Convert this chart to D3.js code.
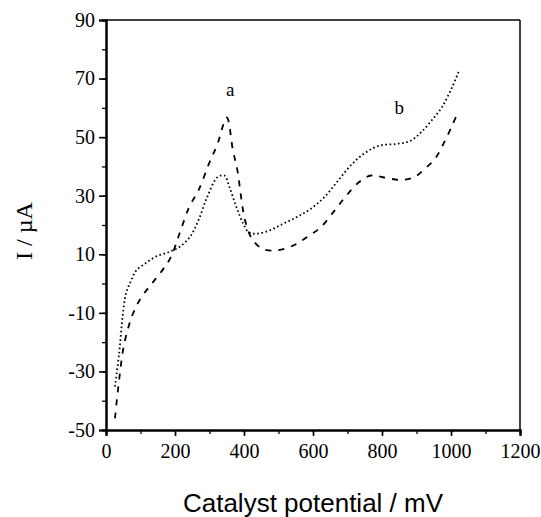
<!DOCTYPE html>
<html>
<head>
<meta charset="utf-8">
<script src="https://cdn.jsdelivr.net/npm/d3@7"></script>
<style>
html,body{margin:0;padding:0;background:#fff;}
svg{display:block;}
</style>
</head>
<body>
<svg id="chart" width="541" height="517"></svg>
<script>
// Data
const potentialDashed = [26,38,53,78,103,133,163,188,213,241,268,298,323,350,368,381,393,403,423,453,493,543,583,623,663,693,733,768,803,853,893,923,953,978,1003,1018];
const currentDashed   = [-46,-32.9,-20.5,-10.3,-4.6,0,4.5,9,17,26.1,31.8,40.8,47.6,56.7,45.4,38.6,28.4,21.6,15.3,11.9,11.3,13,15.9,19.3,25,29.5,34.6,36.9,36.3,35.4,36.3,39.1,42.5,47.7,53.9,57.9];
const potentialDotted = [26,38,48,58,73,88,113,143,183,213,243,268,293,323,343,358,378,398,413,433,473,513,553,593,633,673,713,753,793,843,883,913,943,973,1003,1023];
const currentDotted   = [-35.2,-23.9,-11.4,-3.4,1.1,4.5,6.8,9.1,10.8,12.5,15.9,21.6,29.5,36.3,36.9,32.9,26.1,20.4,17.6,17,18.1,20.4,22.7,25.5,29.5,35.2,40.8,44.8,47.1,47.7,48.8,51.6,55.6,60.1,67,72.6];
const xTickValues = [0,200,400,600,800,1000,1200];
const yTickValues = [-50,-30,-10,10,30,50,70,90];
const curveLabels = ["a","b"];
const xTitle = "Catalyst potential / mV";
const yTitle = "I / \u00B5A";

const SERIF = "'Liberation Serif','Times New Roman',Times,serif";
const SANS = "'Liberation Sans',Arial,Helvetica,sans-serif";

const svg = d3.select("#chart");
const L = 106, R = 520, T = 20, B = 430;
const x = d3.scaleLinear().domain([0,1200]).range([L,R]);
const y = d3.scaleLinear().domain([-50,90]).range([B,T]);

// frame (top and right)
svg.append("line").attr("x1",L).attr("x2",R).attr("y1",T).attr("y2",T).attr("stroke","#000").attr("stroke-width",1.5);
svg.append("line").attr("x1",R).attr("x2",R).attr("y1",T).attr("y2",B).attr("stroke","#000").attr("stroke-width",1.5);

const fmt = d => String(d);

// axes
const xMinor = d3.range(0,1201,100);
const yMinor = d3.range(-50,91,10);
const gx = svg.append("g").attr("transform",`translate(0,${B})`);
gx.call(d3.axisBottom(x).tickValues(xMinor).tickSize(4).tickFormat(""));
const gx2 = svg.append("g").attr("transform",`translate(0,${B})`);
gx2.call(d3.axisBottom(x).tickValues(xTickValues).tickSize(6).tickPadding(8).tickFormat(fmt));
const gy = svg.append("g").attr("transform",`translate(${L},0)`);
gy.call(d3.axisLeft(y).tickValues(yMinor).tickSize(4).tickFormat(""));
const gy2 = svg.append("g").attr("transform",`translate(${L},0)`);
gy2.call(d3.axisLeft(y).tickValues(yTickValues).tickSize(7).tickPadding(4).tickFormat(fmt));

[gx,gx2,gy,gy2].forEach(g=>{
  g.attr("font-family",SERIF).attr("font-size",20);
  g.select(".domain").attr("stroke","#000").attr("stroke-width",2);
  g.selectAll(".tick line").attr("stroke","#000").attr("stroke-width",1.3);
  g.selectAll("text").attr("fill","#000").attr("font-family",SERIF).attr("font-size",20)
    .style("font-family",SERIF).style("font-size","20px");
});
gy2.selectAll(".tick line").attr("stroke-width",1.6);
gx2.selectAll(".tick line").attr("stroke-width",1.6);

// curves
const line = d3.line().x(d=>x(d[0])).y(d=>y(d[1])).curve(d3.curveCatmullRom.alpha(0.5));
const dashedData = potentialDashed.map((p,i)=>[p,currentDashed[i]]);
const dottedData = potentialDotted.map((p,i)=>[p,currentDotted[i]]);
svg.append("path").datum(dashedData).attr("d",line).attr("fill","none")
  .attr("stroke","#000").attr("stroke-width",1.8).attr("stroke-dasharray","6,7");
svg.append("path").datum(dottedData).attr("d",line).attr("fill","none")
  .attr("stroke","#000").attr("stroke-width",1.8).attr("stroke-dasharray","1.6,2.6");

// curve labels
const labelPos = [[360,64],[850,58]];
svg.selectAll(".clabel").data(curveLabels).enter().append("text")
  .attr("class","clabel")
  .attr("x",(d,i)=>x(labelPos[i][0])).attr("y",(d,i)=>y(labelPos[i][1]))
  .attr("text-anchor","middle")
  .style("font-family",SERIF).style("font-size","19px")
  .text(d=>d);

// titles
svg.append("text").attr("x",313).attr("y",512).attr("text-anchor","middle")
  .style("font-family",SANS).style("font-size","26px")
  .text(xTitle);
svg.append("text").attr("transform","translate(32,231) rotate(-90)").attr("text-anchor","middle")
  .style("font-family",SERIF).style("font-size","24px")
  .text(yTitle);
</script>
</body>
</html>
